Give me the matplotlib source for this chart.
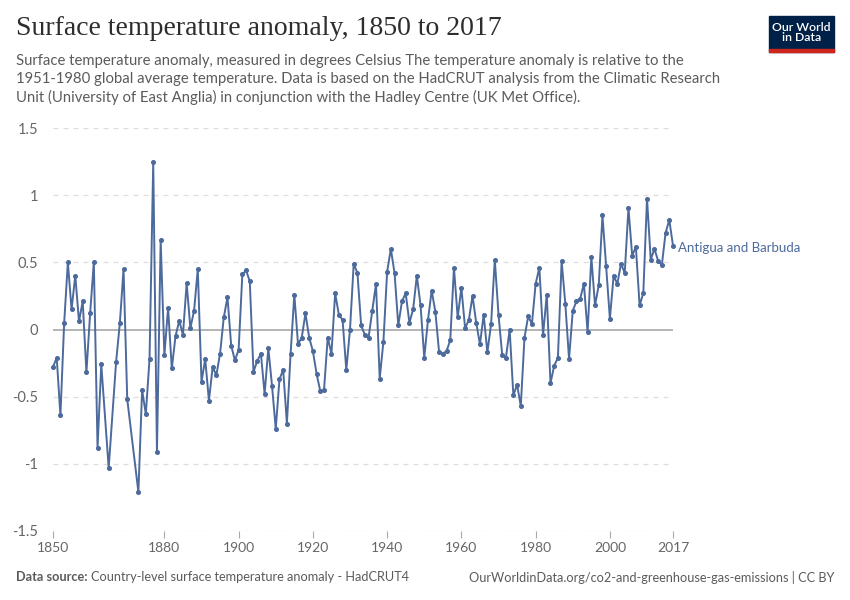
import numpy as np
import matplotlib
matplotlib.use('Agg')
import matplotlib.pyplot as plt
from matplotlib.patches import Rectangle

# years with data (1864, 1866, 1871, 1872 missing)
years = ([1850, 1851, 1852, 1853, 1854, 1855, 1856, 1857, 1858, 1859,
          1860, 1861, 1862, 1863, 1865, 1867, 1868, 1869, 1870]
         + list(range(1873, 2018)))

anomaly = [
    -0.28, -0.21, -0.64, 0.045, 0.50, 0.15, 0.40, 0.06, 0.21, -0.32,
    0.12, 0.50, -0.88, -0.26, -1.03, -0.24, 0.045, 0.45, -0.52,
    # 1873-1889
    -1.21, -0.45, -0.63, -0.22, 1.245, -0.91, 0.667, -0.19, 0.16, -0.29,
    -0.05, 0.065, -0.04, 0.345, 0.01, 0.14, 0.45,
    # 1890-1909
    -0.39, -0.22, -0.53, -0.28, -0.34, -0.18, 0.09, 0.24, -0.12, -0.23,
    -0.15, 0.41, 0.44, 0.36, -0.315, -0.235, -0.18, -0.48, -0.14, -0.42,
    # 1910-1929
    -0.74, -0.37, -0.30, -0.70, -0.18, 0.26, -0.11, -0.06, 0.12, -0.06,
    -0.16, -0.33, -0.46, -0.45, -0.06, -0.18, 0.27, 0.11, 0.07, -0.30,
    # 1930-1949
    0.0, 0.49, 0.42, 0.03, -0.04, -0.06, 0.14, 0.34, -0.365, -0.09,
    0.43, 0.60, 0.42, 0.03, 0.21, 0.27, 0.05, 0.15, 0.40, 0.18,
    # 1950-1969
    -0.21, 0.07, 0.29, 0.13, -0.17, -0.18, -0.16, -0.08, 0.46, 0.09,
    0.31, 0.01, 0.07, 0.25, 0.05, -0.11, 0.11, -0.17, 0.04, 0.52,
    # 1970-1989
    0.11, -0.19, -0.21, 0.0, -0.49, -0.41, -0.57, -0.06, 0.10, 0.04,
    0.34, 0.46, -0.04, 0.26, -0.40, -0.27, -0.21, 0.51, 0.19, -0.22,
    # 1990-2009
    0.14, 0.21, 0.23, 0.34, -0.02, 0.54, 0.18, 0.33, 0.85, 0.47,
    0.08, 0.40, 0.34, 0.49, 0.42, 0.905, 0.55, 0.615, 0.18, 0.27,
    # 2010-2017
    0.975, 0.52, 0.60, 0.51, 0.48, 0.72, 0.815, 0.625,
]

y_ticks = [-1.5, -1, -0.5, 0, 0.5, 1, 1.5]
y_labels = ['-1.5', '-1', '-0.5', '0', '0.5', '1', '1.5']
x_ticks = [1850, 1880, 1900, 1920, 1940, 1960, 1980, 2000, 2017]
country = 'Antigua and Barbuda'

line_col = '#4c6a9c'
grey = '#5b5b5b'
plt.rcParams['font.family'] = ['Lato', 'DejaVu Sans']

fig = plt.figure(figsize=(8.5, 6), dpi=100)
W, H = 850, 600

def fx(px):
    return px / W

def fy(py):
    return 1 - py / H

ax = fig.add_axes([fx(53), fy(531), fx(673) - fx(53), fy(128) - fy(531)])
ax.plot(years, anomaly, color=line_col, lw=1.4, marker='o', ms=2.6,
        clip_on=False, zorder=3)
ax.set_xlim(1850, 2017)
ax.set_ylim(-1.5, 1.5)

for v in y_ticks:
    if v == 0:
        ax.axhline(v, color='#a0a0a0', lw=1.1, zorder=1)
    else:
        ax.axhline(v, color='#dddddd', lw=0.9, ls=(0, (4, 4)), zorder=1)

for s in ax.spines.values():
    s.set_visible(False)
ax.set_yticks(y_ticks)
ax.set_yticklabels(y_labels)
ax.tick_params(axis='y', length=0, pad=10.5, labelsize=10.5, labelcolor='#666666')
ax.set_xticks(x_ticks)
ax.set_xticklabels([str(t) for t in x_ticks])
ax.tick_params(axis='x', length=5, width=0.8, color='#aaaaaa', pad=3,
               labelsize=10, labelcolor='#666666', direction='out')

ax.text(2017 + 1.4, anomaly[-1] - 0.02, country, color=line_col, fontsize=9.5,
        va='center', ha='left', clip_on=False)

# header
fig.text(fx(16), fy(35), 'Surface temperature anomaly, 1850 to 2017',
         family=['Liberation Serif', 'DejaVu Serif'], fontsize=20,
         color='#2d2d2d', va='baseline')
sub = ('Surface temperature anomaly, measured in degrees Celsius The temperature anomaly is relative to the\n'
       '1951-1980 global average temperature. Data is based on the HadCRUT analysis from the Climatic Research\n'
       'Unit (University of East Anglia) in conjunction with the Hadley Centre (UK Met Office).')
fig.text(fx(16), fy(54), sub, fontsize=10.7, color=grey, va='top',
         linespacing=1.36)

# logo
fig.patches.append(Rectangle((fx(769), fy(52)), fx(834) - fx(769), fy(16) - fy(52),
                             transform=fig.transFigure, color='#002147'))
fig.patches.append(Rectangle((fx(769), fy(52)), fx(834) - fx(769), fy(49) - fy(52),
                             transform=fig.transFigure, color='#ce261e'))
fig.text(fx(801.5), fy(32.5), 'Our World\nin Data', color='white', fontsize=8.8,
         fontweight='semibold', ha='center', va='center', linespacing=0.95)

# footer
fig.text(fx(16), fy(577), 'Data source:', fontsize=9.2, color=grey,
         fontweight='bold', va='center')
fig.text(fx(91), fy(577), 'Country-level surface temperature anomaly - HadCRUT4',
         fontsize=9.2, color=grey, va='center')
fig.text(fx(834), fy(577), 'OurWorldinData.org/co2-and-greenhouse-gas-emissions | CC BY',
         fontsize=9.2, color=grey, va='center', ha='right')

fig.savefig('out.png', dpi=100, facecolor='white')
